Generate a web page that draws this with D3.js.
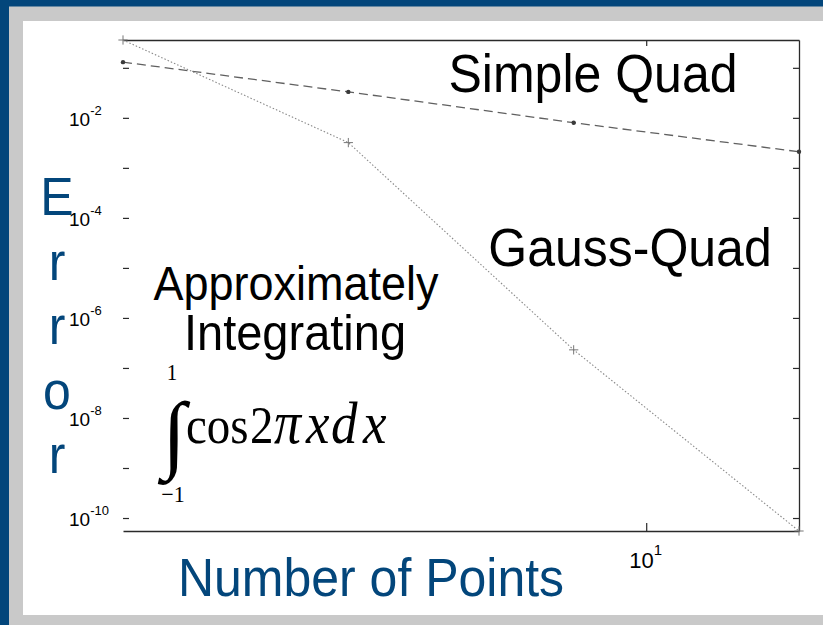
<!DOCTYPE html>
<html>
<head>
<meta charset="utf-8">
<script src="https://cdn.jsdelivr.net/npm/d3@7"></script>
<style>
  body { margin: 0; background: #fff; }
  svg { display: block; }
</style>
</head>
<body>
<svg id="chart" width="823" height="625"></svg>
<script>
// Number of quadrature points and the absolute error of each rule
const numPoints = [2, 4, 8, 16];
const simpleQuadError = [0.13, 0.033, 0.0080, 0.0021];
const gaussQuadError = [0.36, 0.0032, 2.3e-7, 5.5e-11];

// Decade ticks on the error axis and the ones that carry a label
const yTickExponents = [-10, -9, -8, -7, -6, -5, -4, -3, -2, -1];
const yLabelExponents = [-10, -8, -6, -4, -2];
const xTickExponents = [1];

const svg = d3.select("#chart");
const W = 823, H = 625;
const BLUE = "#03467b";
const SANS = "'Liberation Sans', Arial, Helvetica, sans-serif";
const SERIF = "'Liberation Serif', 'Times New Roman', serif";

// frame: blue edge, grey mat, white card
svg.append("rect").attr("width", W).attr("height", H).attr("fill", BLUE);
svg.append("rect").attr("x", 9).attr("y", 6.5).attr("width", W - 9).attr("height", H - 6.5).attr("fill", "#c9c9c9");
svg.append("rect").attr("x", 23).attr("y", 21).attr("width", W - 23).attr("height", 615 - 21).attr("fill", "#fff");

const plot = { left: 123, right: 799, top: 40, bottom: 531 };

const simple = numPoints.map((n, i) => ({ n, e: simpleQuadError[i] }));
const gauss = numPoints.map((n, i) => ({ n, e: gaussQuadError[i] }));

const x = d3.scaleLog()
  .domain(d3.extent(numPoints))
  .range([plot.left, plot.right]);
const y = d3.scaleLog()
  .domain(d3.extent(simpleQuadError.concat(gaussQuadError)))
  .range([plot.bottom, plot.top]);

const yTicks = yTickExponents.map(p => Math.pow(10, p));
const xTicks = xTickExponents.map(p => Math.pow(10, p));

function styleAxis(g, drawDomain) {
  g.selectAll("path.domain")
    .attr("stroke", drawDomain ? "#2a2a2a" : "none")
    .attr("stroke-width", 1.3);
  g.selectAll(".tick line").attr("stroke", "#2a2a2a").attr("stroke-width", 1.2);
  g.selectAll(".tick text").remove();
}

// left: ticks only, no spine
svg.append("g")
  .attr("transform", `translate(${plot.left},0)`)
  .call(d3.axisLeft(y).tickValues(yTicks).tickSize(-6).tickSizeOuter(0).tickFormat(""))
  .call(g => styleAxis(g, false));

// right spine with inward ticks
svg.append("g")
  .attr("transform", `translate(${plot.right},0)`)
  .call(d3.axisRight(y).tickValues(yTicks).tickSize(-6).tickSizeOuter(0).tickFormat(""))
  .call(g => styleAxis(g, true));

// top spine
svg.append("g")
  .attr("transform", `translate(0,${plot.top})`)
  .call(d3.axisTop(x).tickValues(xTicks).tickSize(-6).tickSizeOuter(0).tickFormat(""))
  .call(g => styleAxis(g, true));

// bottom spine
svg.append("g")
  .attr("transform", `translate(0,${plot.bottom})`)
  .call(d3.axisBottom(x).tickValues(xTicks).tickSize(-8).tickSizeOuter(0).tickFormat(""))
  .call(g => styleAxis(g, true));

// power-of-ten tick labels
const yLab = svg.append("g").attr("font-family", SANS).attr("fill", "#000");
yLabelExponents.forEach(p => {
  const t = yLab.append("text")
    .attr("x", 69)
    .attr("y", y(Math.pow(10, p)) + 8)
    .attr("font-size", 19);
  t.append("tspan").text("10");
  t.append("tspan").attr("font-size", 13).attr("dy", -11).text(String(p));
});
xTickExponents.forEach(p => {
  const t = svg.append("text")
    .attr("font-family", SANS)
    .attr("x", x(Math.pow(10, p)) - 17)
    .attr("y", plot.bottom + 37)
    .attr("font-size", 22);
  t.append("tspan").text("10");
  t.append("tspan").attr("font-size", 15).attr("dy", -13).text(String(p));
});

// series
const line = d3.line().x(d => x(d.n)).y(d => y(d.e));

svg.append("path")
  .datum(simple)
  .attr("d", line)
  .attr("fill", "none")
  .attr("stroke", "#606060")
  .attr("stroke-width", 1.3)
  .attr("stroke-dasharray", "9,5");

svg.append("path")
  .datum(gauss)
  .attr("d", line)
  .attr("fill", "none")
  .attr("stroke", "#8a8a8a")
  .attr("stroke-width", 1.1)
  .attr("stroke-dasharray", "1.5,2");

svg.append("g").selectAll("circle")
  .data(simple)
  .join("circle")
  .attr("cx", d => x(d.n))
  .attr("cy", d => y(d.e))
  .attr("r", 2.2)
  .attr("fill", "#3a3a3a");

svg.append("g").selectAll("path")
  .data(gauss)
  .join("path")
  .attr("transform", d => `translate(${x(d.n)},${y(d.e)})`)
  .attr("d", d3.symbol(d3.symbolPlus, 30))
  .attr("fill", "none")
  .attr("stroke", "#777")
  .attr("stroke-width", 1);

// text helper with slight vertical stretch
function label(txt, cx, by, size, opts = {}) {
  return svg.append("text")
    .attr("transform", `translate(${cx},${by}) scale(1,${opts.sy || 1.07})`)
    .attr("text-anchor", opts.anchor || "middle")
    .attr("font-family", opts.family || SANS)
    .attr("font-size", size)
    .attr("fill", opts.fill || "#000")
    .text(txt);
}

label("Simple Quad", 593, 92, 50);
label("Gauss-Quad", 630, 266, 50);
label("Approximately", 296, 300, 45);
label("Integrating", 295, 350, 47);

// axis titles
label("Number of Points", 371, 596, 50, { fill: BLUE });
const errorLetters = ["E", "r", "r", "o", "r"];
errorLetters.forEach((c, i) => label(c, 57, 215 + i * 64.5, 50, { fill: BLUE }));

// the integrand being approximated
label("\u222B", 174, 462, 86, { family: SERIF, sy: 1.0 });
label("1", 172, 380, 21, { family: SERIF });
label("\u22121", 173, 502, 22, { family: SERIF });
const integrand = svg.append("g")
  .attr("font-family", SERIF)
  .attr("fill", "#000");
const glyphs = [
  { t: "cos", x: 186, it: false, s: 47 },
  { t: "2", x: 250, it: false, s: 47 },
  { t: "\u03C0", x: 274, it: true, s: 54 },
  { t: "x", x: 306, it: true, s: 53 },
  { t: "d", x: 331, it: true, s: 53 },
  { t: "x", x: 363, it: true, s: 53 }
];
glyphs.forEach(g => {
  integrand.append("text")
    .attr("transform", `translate(${g.x},443) scale(1,1.12)`)
    .attr("font-size", g.s)
    .attr("font-style", g.it ? "italic" : "normal")
    .text(g.t);
});
</script>
</body>
</html>
